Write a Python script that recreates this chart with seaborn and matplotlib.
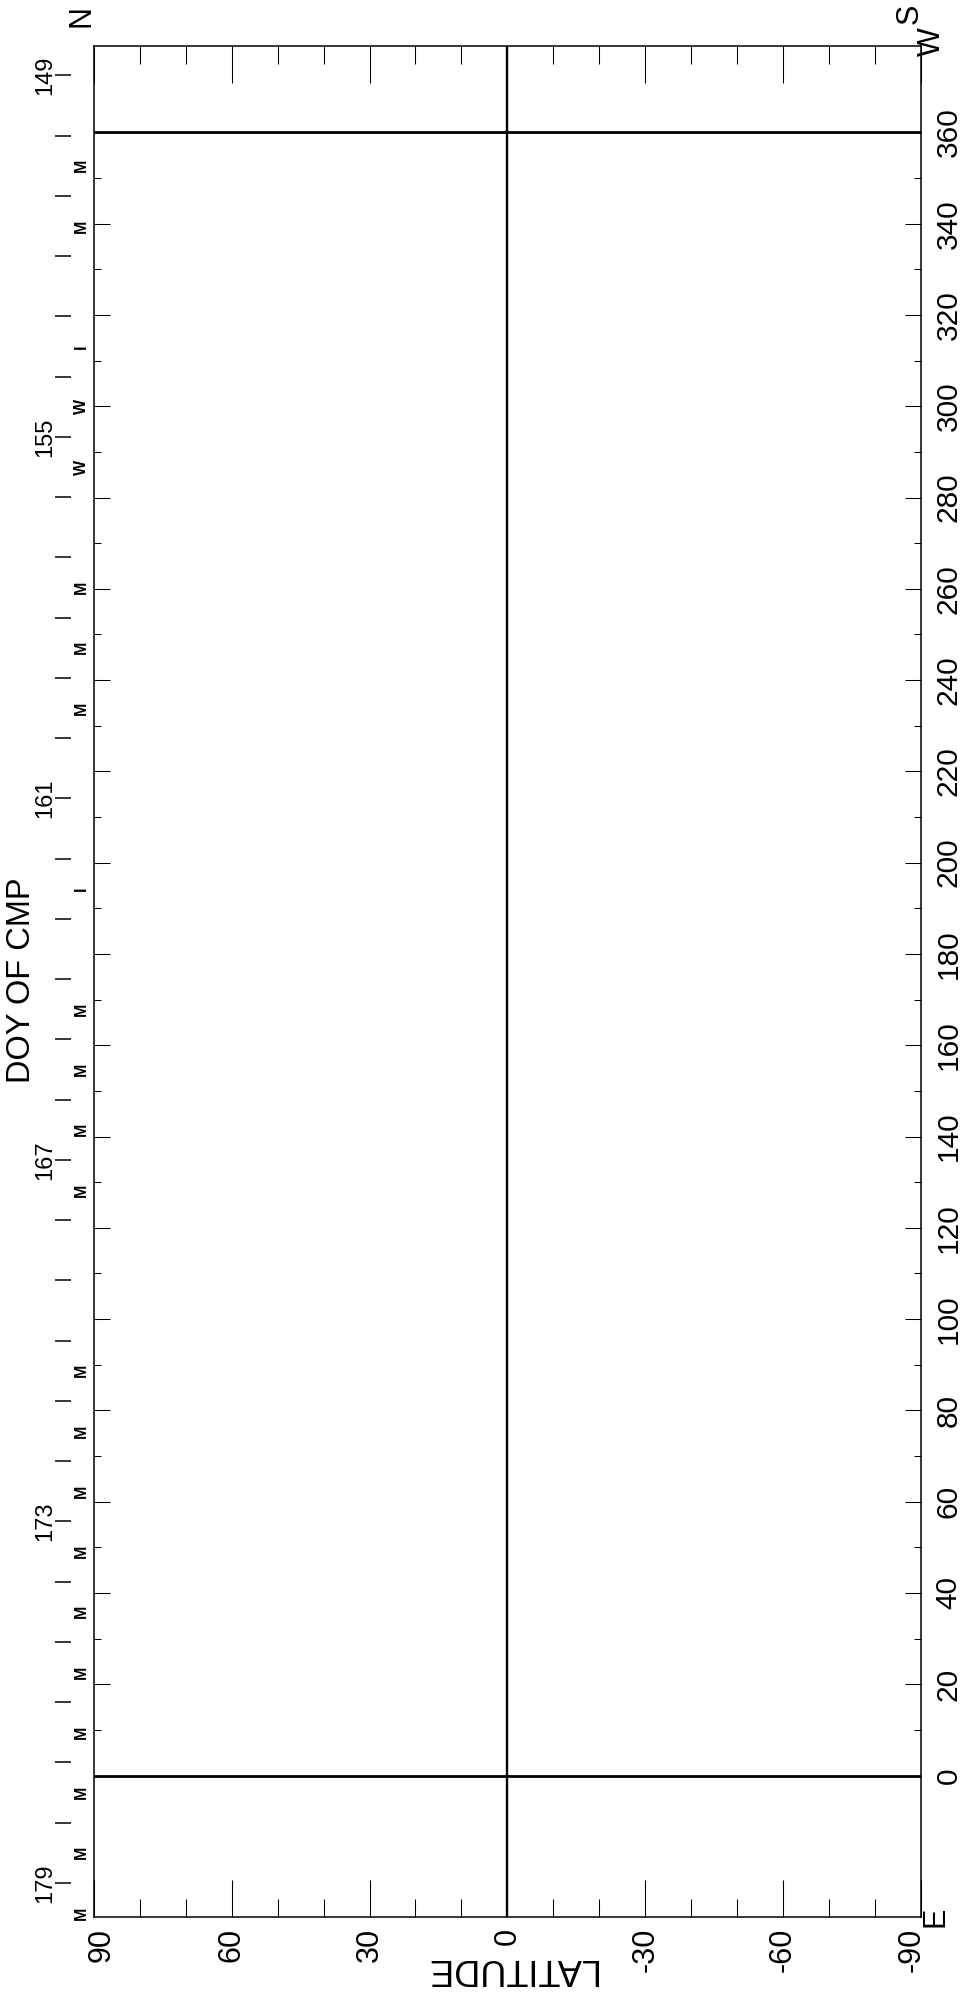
import numpy as np
import pandas as pd
import matplotlib
matplotlib.use("Agg")
import matplotlib.pyplot as plt
import matplotlib.transforms as mtransforms
from matplotlib.ticker import FixedLocator
import seaborn as sns

# ---------------- data ----------------
lat_major = [90, 60, 30, 0, -30, -60, -90]
lat_minor = [80, 70, 50, 40, 20, 10, -10, -20, -40, -50, -70, -80]
lon_major = [0, 20, 40, 60, 80, 100, 120, 140, 160, 180, 200, 220, 240, 260, 280, 300, 320, 340, 360]
lon_minor = [10, 30, 50, 70, 90, 110, 130, 150, 170, 190, 210, 230, 250, 270, 290, 310, 330, 350]
lon_limits = [-31, 379]
lat_limits = [90, -90]

ref_line_lon = [0, 360]          # horizontal reference lines (longitude)
ref_line_lat = [0]               # vertical reference line (latitude)

doy_days = [149, 150, 151, 152, 153, 154, 155, 156, 157, 158, 159, 160, 161, 162, 163, 164,
            165, 166, 167, 168, 169, 170, 171, 172, 173, 174, 175, 176, 177, 178, 179]
doy_labels = [149, 155, 161, 167, 173, 179]

event_days = [150, 151, 153, 154, 155, 157, 158, 159, 162, 164, 165, 166, 167,
              170, 171, 172, 173, 174, 175, 176, 177, 178, 179]
event_codes = ["M", "M", "I", "W", "W", "M", "M", "M", "I", "M", "M", "M", "M",
               "M", "M", "M", "M", "M", "M", "M", "M", "M", "M"]

# central-meridian-passage conversion: DOY -> Carrington longitude
DOY_REF = 149
LON_AT_REF = 372.5
DEG_PER_DAY = 13.2


def doy_to_lon(d):
    return LON_AT_REF - DEG_PER_DAY * (np.asarray(d, dtype=float) - DOY_REF)


# ---------------- style ----------------
sns.set_theme(style="white", rc={"axes.edgecolor": "black", "xtick.color": "black",
                                 "ytick.color": "black", "text.color": "black"})
plt.rcParams["font.family"] = ["Liberation Sans", "DejaVu Sans"]

W, H = 964, 1992
fig = plt.figure(figsize=(W / 100, H / 100), dpi=100)
ax_left, ax_right, ax_top, ax_bottom = 94, 920.7, 45.7, 1917
ax = fig.add_axes([ax_left / W, 1 - ax_bottom / H, (ax_right - ax_left) / W, (ax_bottom - ax_top) / H])

# reference lines
df_ref = pd.DataFrame({
    "lat": [lat_limits[0], lat_limits[1]] * len(ref_line_lon),
    "lon": [v for v in ref_line_lon for _ in range(2)],
    "line": [i for i in range(len(ref_line_lon)) for _ in range(2)],
})
sns.lineplot(data=df_ref, x="lat", y="lon", units="line", estimator=None, sort=False,
             color="black", lw=2.0, legend=False, ax=ax)
for v in ref_line_lat:
    ax.axvline(v, color="black", lw=1.7)

ax.set_xlim(*lat_limits)
ax.set_ylim(*lon_limits)
ax.set_xlabel("")
ax.set_ylabel("")

for s in ax.spines.values():
    s.set_linewidth(1.1)
    s.set_color("black")

ax.xaxis.set_major_locator(FixedLocator(lat_major))
ax.xaxis.set_minor_locator(FixedLocator(lat_minor))
ax.yaxis.set_major_locator(FixedLocator(lon_major))
ax.yaxis.set_minor_locator(FixedLocator(lon_minor))
ax.set_xticklabels([str(v) for v in lat_major])
ax.set_yticklabels([str(v) for v in lon_major])

ax.tick_params(axis="x", which="major", direction="in", length=26.6, width=0.75,
               top=True, bottom=True, labeltop=False, labelbottom=True,
               labelrotation=90, labelsize=22, pad=8)
ax.tick_params(axis="x", which="minor", direction="in", length=13, width=0.75,
               top=True, bottom=True)
ax.tick_params(axis="y", which="major", direction="in", length=11.2, width=0.75,
               left=True, right=True, labelleft=False, labelright=True,
               labelrotation=90, labelsize=21.5, pad=10.2)
ax.tick_params(axis="y", which="minor", direction="in", length=5, width=0.75,
               left=True, right=True)
plt.setp(ax.get_yticklabels(), va="center", ha="left")
plt.setp(ax.get_xticklabels(), va="top", ha="center")

# DOY of CMP annotations on the left side
blend = mtransforms.blended_transform_factory(ax.transAxes, ax.transData)
axw = ax_right - ax_left
ax.hlines(doy_to_lon(doy_days), (55 - ax_left) / axw, (71 - ax_left) / axw,
          transform=blend, color="black", lw=1.1, clip_on=False)
for d in doy_labels:
    ax.text((45 - ax_left) / axw, doy_to_lon(d), str(d), transform=blend, rotation=90,
            ha="center", va="center", fontsize=17, clip_on=False)
for d, c in zip(event_days, event_codes):
    ax.text((81.5 - ax_left) / axw, doy_to_lon(d + 0.5), c, transform=blend, rotation=90,
            ha="center", va="center", fontsize=11.5, fontweight="bold", clip_on=False)

# titles / labels
fig.text(22 / W, 1 - 980 / H, "DOY OF CMP", rotation=90, ha="center", va="center", fontsize=23.5)
fig.text(510 / W, 1 - 1968 / H, "LATITUDE", rotation=180, ha="center", va="center", fontsize=26)
fig.text(82 / W, 1 - 16 / H, "N", rotation=90, ha="center", va="center", fontsize=22)
fig.text(910 / W, 1 - 14 / H, "S", rotation=90, ha="center", va="center", fontsize=22)
fig.text(932 / W, 1 - 42 / H, "W", rotation=90, ha="center", va="center", fontsize=22)
fig.text(936 / W, 1 - 1917 / H, "E", rotation=90, ha="center", va="center", fontsize=22)

# nudge edge latitude labels inward as in the reference
fig.canvas.draw()
for t in ax.xaxis.get_major_ticks():
    loc = t.get_loc()
    if loc == 90:
        t.label1.set_transform(t.label1.get_transform() + mtransforms.ScaledTranslation(8 / 100, 0, fig.dpi_scale_trans))
    elif loc == -90:
        t.label1.set_transform(t.label1.get_transform() + mtransforms.ScaledTranslation(-9 / 100, 0, fig.dpi_scale_trans))

fig.savefig("out.png", dpi=100, facecolor="white")
